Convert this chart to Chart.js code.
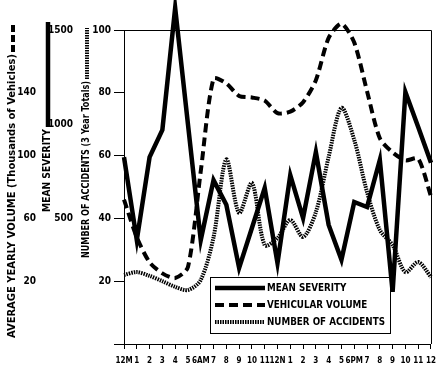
<!DOCTYPE html>
<html>
<head>
<meta charset="utf-8">
<script src="https://cdn.jsdelivr.net/npm/chart.js@4.4.1/dist/chart.umd.min.js"></script>
<style>
    html, body { margin: 0; padding: 0; background: #fff; }
</style>
</head>
<body>
<canvas id="accidentChart" width="443" height="367"></canvas>
<script>
// ==================== DATA ====================
// Hour of day, midnight to midnight
const hours = ['12M', '1', '2', '3', '4', '5', '6AM', '7', '8', '9', '10', '11', '12N',
               '1', '2', '3', '4', '5', '6PM', '7', '8', '9', '10', '11', '12'];

// Mean severity (right-most of the left scales, 500..1500)
const meanSeverity = [825, 385, 825, 970, 1617, 1000, 385, 703, 572, 237, 449, 662, 263,
                      730, 502, 852, 465, 280, 587, 560, 810, 110, 1171, 985, 795];

// Average yearly volume, thousands of vehicles
const vehicularVolume = [72, 48, 32, 25, 22, 29, 90, 149, 146, 138, 137, 135, 127,
                         128, 134, 148, 175, 184, 172, 141, 111, 102, 97, 98, 74];

// Number of accidents, 3 year totals
const accidents = [22, 22.9, 21.7, 20, 18.2, 17.2, 20.4, 34, 58.8, 41.7, 51.3, 31.5, 33.8,
                   39.5, 34.1, 42, 59.6, 75.2, 65, 48.4, 36.3, 31.5, 22.9, 26.1, 21.3];

// Tick values for the three left scales
const accidentTicks = [0, 20, 40, 60, 80, 100];
const severityTicks = [500, 1000, 1500];
const volumeTicks = [20, 60, 100, 140];

// Titles
const accidentTitle = 'NUMBER OF ACCIDENTS (3 Year Totals)';
const severityTitle = 'MEAN SEVERITY';
const volumeTitle = 'AVERAGE YEARLY VOLUME (Thousands of Vehicles)';

// ==================== STYLE ====================
const FONT = "'Liberation Sans Narrow', 'DejaVu Sans Condensed', 'Roboto', sans-serif";
const INK = '#000';

// Fit text into a given length by squeezing it horizontally
function fitText(ctx, text, x, y, length, align) {
    const w = ctx.measureText(text).width;
    const k = Math.min(1.6, length / w);
    ctx.save();
    ctx.translate(x, y);
    ctx.scale(k, 1);
    ctx.textAlign = align || 'left';
    ctx.fillText(text, 0, 0);
    ctx.restore();
}

// Rotated axis title with its line key on top
function drawAxisTitle(ctx, text, x, yBottom, yTop, keyTop, dataset) {
    ctx.save();
    ctx.fillStyle = INK;
    ctx.font = 'bold 10px ' + FONT;
    ctx.textBaseline = 'middle';
    ctx.translate(x, yBottom);
    ctx.rotate(-Math.PI / 2);
    fitText(ctx, text, 0, 0, yBottom - yTop);
    ctx.restore();

    ctx.save();
    ctx.strokeStyle = INK;
    ctx.lineWidth = dataset.borderWidth;
    ctx.setLineDash(dataset.keyDash || dataset.borderDash || []);
    ctx.beginPath();
    ctx.moveTo(x + 1, yTop - 2);
    ctx.lineTo(x + 1, keyTop);
    ctx.stroke();
    ctx.restore();
}

// Decorations: frame, titles and the boxed legend
const decorations = {
    id: 'decorations',
    afterDraw(chart) {
        const ctx = chart.ctx;
        const area = chart.chartArea;
        const ds = chart.data.datasets;

        // frame on top and right
        ctx.save();
        ctx.strokeStyle = INK;
        ctx.lineWidth = 1;
        ctx.beginPath();
        ctx.moveTo(area.left, area.top + 0.5);
        ctx.lineTo(area.right + 0.5, area.top + 0.5);
        ctx.lineTo(area.right + 0.5, area.bottom);
        ctx.stroke();
        ctx.restore();

        drawAxisTitle(ctx, volumeTitle, 12, 338, 54, 25, ds[1]);
        drawAxisTitle(ctx, severityTitle, 47, 212, 129, 22, ds[0]);
        drawAxisTitle(ctx, accidentTitle, 86, 258, 81, 28, ds[2]);

        // legend
        const box = { x: 210.5, y: 277.5, w: 180, h: 56 };
        ctx.save();
        ctx.strokeStyle = INK;
        ctx.lineWidth = 1;
        ctx.strokeRect(box.x, box.y, box.w, box.h);
        ctx.font = 'bold 10px ' + FONT;
        ctx.textBaseline = 'middle';
        ctx.fillStyle = INK;
        const k = 118 / ctx.measureText(ds[2].label).width;
        ds.forEach((d, i) => {
            const y = 288 + i * 17;
            ctx.save();
            ctx.lineWidth = d.borderWidth;
            ctx.setLineDash(d.borderDash || []);
            ctx.beginPath();
            ctx.moveTo(215, y);
            ctx.lineTo(265, y);
            ctx.stroke();
            ctx.restore();
            ctx.save();
            ctx.translate(267, y + 0.5);
            ctx.scale(k, 1);
            ctx.fillText(d.label, 0, 0);
            ctx.restore();
        });
        ctx.restore();
    }
};

function fixedTicks(values) {
    return scale => { scale.ticks = values.map(v => ({ value: v })); };
}

const tickFont = { family: FONT, size: 10, weight: 'bold' };
const plainLabel = v => String(v);

new Chart(document.getElementById('accidentChart'), {
    type: 'line',
    data: {
        labels: hours,
        datasets: [
            {
                label: 'MEAN SEVERITY',
                data: meanSeverity,
                yAxisID: 'ySev',
                borderColor: INK,
                borderWidth: 4.5,
                tension: 0,
                borderJoinStyle: 'miter',
                clip: false
            },
            {
                label: 'VEHICULAR VOLUME',
                data: vehicularVolume,
                yAxisID: 'yVol',
                borderColor: INK,
                borderWidth: 4,
                borderDash: [9, 5],
                keyDash: [7, 3],
                tension: 0.25,
                clip: false
            },
            {
                label: 'NUMBER OF ACCIDENTS',
                data: accidents,
                yAxisID: 'y',
                borderColor: INK,
                borderWidth: 4,
                borderDash: [1.5, 1],
                tension: 0.3,
                clip: false
            }
        ]
    },
    options: {
        responsive: false,
        animation: false,
        devicePixelRatio: 1,
        layout: { padding: { top: 30, right: 8, left: 0, bottom: 0 } },
        elements: { point: { radius: 0 } },
        plugins: {
            legend: { display: false },
            tooltip: { enabled: false }
        },
        scales: {
            x: {
                offset: false,
                grid: { drawOnChartArea: false, tickLength: 5, color: INK },
                border: { color: INK },
                ticks: {
                    autoSkip: false, maxRotation: 0, minRotation: 0, padding: 7,
                    color: INK, font: { family: FONT, size: 8, weight: 'bold' }
                },
                afterFit(scale) { scale.height = 23; }
            },
            y: {
                position: 'left',
                weight: 0,
                min: 0,
                max: 100,
                afterBuildTicks: fixedTicks(accidentTicks),
                grid: { drawOnChartArea: false, tickLength: 10, color: INK },
                border: { color: INK },
                ticks: { padding: 3, color: INK, font: tickFont, callback: v => v === 0 ? '' : String(v) },
                afterFit(scale) { scale.width = 49; }
            },
            ySev: {
                position: 'left',
                weight: 1,
                min: -500 / 3,
                max: 1500,
                afterBuildTicks: fixedTicks(severityTicks),
                grid: { display: false, drawTicks: false },
                border: { display: false },
                ticks: { padding: 2, color: INK, font: tickFont, callback: plainLabel },
                afterFit(scale) { scale.width = 37; }
            },
            yVol: {
                position: 'left',
                weight: 2,
                min: -20,
                max: 180,
                afterBuildTicks: fixedTicks(volumeTicks),
                grid: { display: false, drawTicks: false },
                border: { display: false },
                ticks: { padding: 2, color: INK, font: tickFont, callback: plainLabel },
                afterFit(scale) { scale.width = 38; }
            }
        }
    },
    plugins: [decorations]
});
</script>
</body>
</html>
